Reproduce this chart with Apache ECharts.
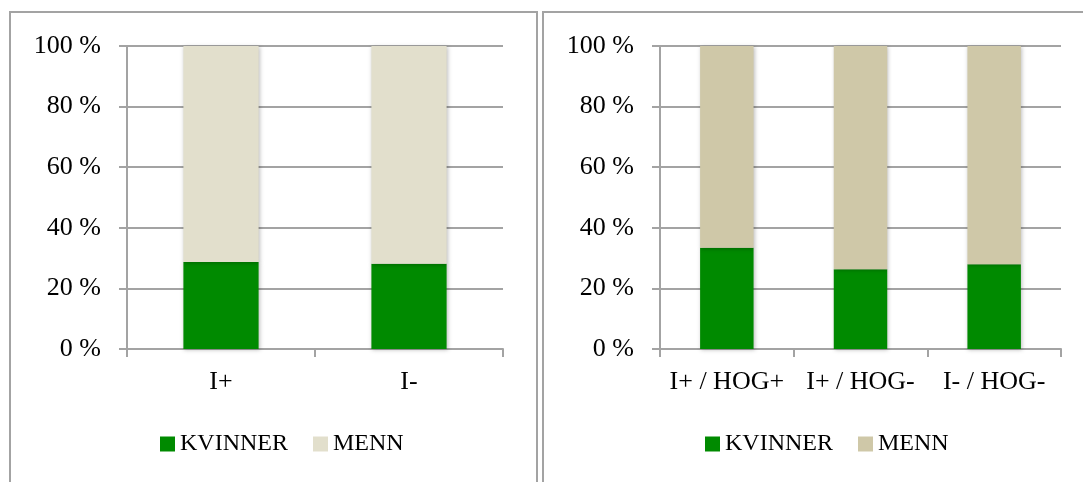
<!DOCTYPE html>
<html>
<head>
<meta charset="utf-8">
<script src="https://cdn.jsdelivr.net/npm/echarts@6/dist/echarts.min.js"></script>
<style>
  html, body { margin: 0; padding: 0; background: #fff; }
  #main { width: 1083px; height: 482px; }
</style>
</head>
<body>
<div id="main"></div>
<script>
// left panel
const catsLeft = ['I+', 'I-'];
const kvinnerLeft = [28.7, 28.1];
const mennLeft = [71.3, 71.9];

// right panel
const catsRight = ['I+ / HOG+', 'I+ / HOG-', 'I- / HOG-'];
const kvinnerRight = [33.4, 26.3, 28.0];
const mennRight = [66.6, 73.7, 72.0];

const yTicks = [0, 20, 40, 60, 80, 100];

const green = '#008a00';
const mennLeftColor = '#e2dfcc';
const mennRightColor = '#cfc8a8';
const gray = '#a3a3a3';
const font = 'Liberation Serif';

function xAxisFor(idx, cats) {
    return {
        type: 'category',
        gridIndex: idx,
        data: cats,
        axisLine: { lineStyle: { color: gray, width: 2 } },
        axisTick: { show: true, length: 8, lineStyle: { color: gray, width: 2 } },
        axisLabel: { color: '#000', fontFamily: font, fontSize: 26, margin: 20, interval: 0 }
    };
}

function yAxisFor(idx) {
    return {
        type: 'value',
        gridIndex: idx,
        min: yTicks[0],
        max: yTicks[yTicks.length - 1],
        interval: 20,
        axisLine: { show: true, lineStyle: { color: gray, width: 2 } },
        axisTick: { show: true, length: 8, lineStyle: { color: gray, width: 2 } },
        splitLine: { lineStyle: { color: gray, width: 2 } },
        axisLabel: {
            color: '#000', fontFamily: font, fontSize: 26, margin: 26,
            formatter: v => v + ' %'
        }
    };
}

const shadow = { shadowBlur: 4, shadowColor: 'rgba(0,0,0,0.25)', shadowOffsetX: 1, shadowOffsetY: 1 };

function barSeries(name, data, idx, color, stack) {
    return {
        name: name,
        type: 'bar',
        stack: stack,
        xAxisIndex: idx,
        yAxisIndex: idx,
        barWidth: '40%',
        data: data,
        itemStyle: Object.assign({ color: color }, shadow)
    };
}

function legendFor(left, mennColor) {
    return {
        left: left, top: 427, itemWidth: 15, itemHeight: 15, itemGap: 25,
        icon: 'rect',
        textStyle: { color: '#000', fontFamily: font, fontSize: 24 },
        data: [
            { name: 'KVINNER', itemStyle: { color: green, shadowBlur: 0 } },
            { name: 'MENN', itemStyle: { color: mennColor, shadowBlur: 0 } }
        ]
    };
}

let option = {
    animation: false,
    backgroundColor: '#fff',
    graphic: [
        // panel frames
        { type: 'rect', shape: { x: 10, y: 12, width: 527, height: 500 },
          style: { fill: 'none', stroke: gray, lineWidth: 2 }, silent: true },
        { type: 'rect', shape: { x: 543, y: 12, width: 600, height: 500 },
          style: { fill: 'none', stroke: gray, lineWidth: 2 }, silent: true }
    ],
    grid: [
        { left: 127, right: 580, top: 46, bottom: 133 },
        { left: 660, right: 22, top: 46, bottom: 133 }
    ],
    xAxis: [xAxisFor(0, catsLeft), xAxisFor(1, catsRight)],
    yAxis: [yAxisFor(0), yAxisFor(1)],
    legend: [legendFor(155, mennLeftColor), legendFor(700, mennRightColor)],
    series: [
        barSeries('KVINNER', kvinnerLeft, 0, green, 'l'),
        barSeries('MENN', mennLeft, 0, mennLeftColor, 'l'),
        barSeries('KVINNER', kvinnerRight, 1, green, 'r'),
        barSeries('MENN', mennRight, 1, mennRightColor, 'r')
    ]
};

let myChart = echarts.init(document.getElementById('main'));
myChart.setOption(option);
</script>
</body>
</html>
